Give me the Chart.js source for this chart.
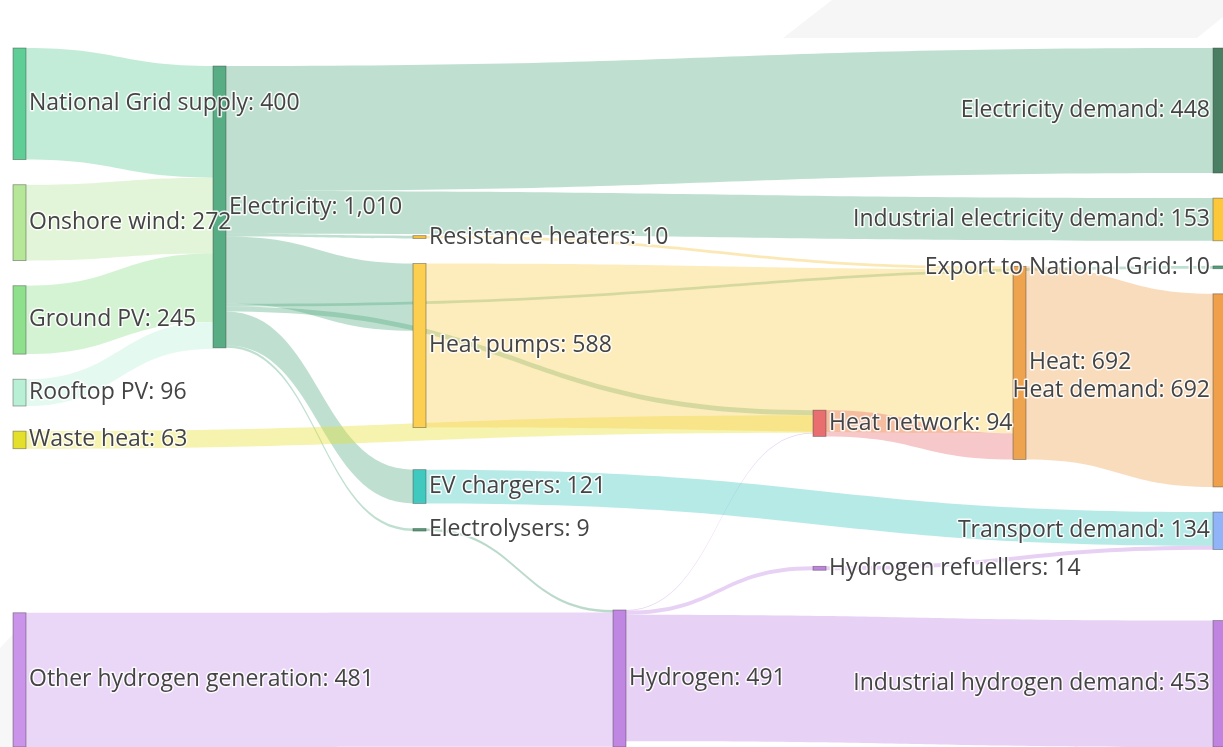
<!DOCTYPE html>
<html>
<head>
<meta charset="utf-8">
<title>Energy flows</title>
<script src="https://cdn.jsdelivr.net/npm/chart.js@4.4.1/dist/chart.umd.min.js"></script>
<style>
  html, body { margin: 0; padding: 0; background: #fff; overflow: hidden; }
  #wrap { position: relative; width: 1223px; height: 747px; }
</style>
</head>
<body>
<div id="wrap"><canvas id="flows"></canvas></div>
<script>
// nodes and their totals (order inside each column is kept top to bottom)
const nodeNames = [
  'National Grid supply', 'Onshore wind', 'Ground PV', 'Rooftop PV', 'Waste heat',
  'Other hydrogen generation', 'Electricity', 'Resistance heaters', 'Heat pumps',
  'EV chargers', 'Electrolysers', 'Hydrogen', 'Heat network', 'Hydrogen refuellers',
  'Heat', 'Electricity demand', 'Industrial electricity demand', 'Export to National Grid',
  'Heat demand', 'Transport demand', 'Industrial hydrogen demand'
]
const nodeValues = [400, 272, 245, 96, 63, 481, 1010, 10, 588, 121, 9, 491, 94, 14, 692, 448, 153, 10, 692, 134, 453]

// links
const linkFrom = [
  'National Grid supply', 'Onshore wind', 'Ground PV', 'Rooftop PV',
  'Electricity', 'Electricity', 'Electricity', 'Electricity', 'Electricity', 'Electricity', 'Electricity', 'Electricity',
  'Waste heat', 'Other hydrogen generation', 'Electrolysers',
  'Hydrogen', 'Hydrogen', 'Hydrogen',
  'Resistance heaters', 'Heat pumps', 'Heat network', 'Heat',
  'EV chargers', 'Hydrogen refuellers'
]
const linkTo = [
  'Electricity', 'Electricity', 'Electricity', 'Electricity',
  'Electricity demand', 'Industrial electricity demand', 'Export to National Grid', 'Resistance heaters', 'Heat pumps', 'Heat network', 'EV chargers', 'Electrolysers',
  'Heat network', 'Hydrogen', 'Hydrogen',
  'Industrial hydrogen demand', 'Hydrogen refuellers', 'Heat network',
  'Heat', 'Heat', 'Heat', 'Heat demand',
  'Transport demand', 'Transport demand'
]
const linkValues = [
  400, 272, 245, 96,
  448, 153, 10, 10, 241, 18, 121, 9,
  63, 481, 9,
  453, 14, 3,
  10, 588, 94, 692,
  121, 14
]

const nodeColors = [
  '#5fcd96', '#b6e698', '#8fe08c', '#b9f0d5', '#e4df2a',
  '#c994ea', '#58ad84', '#f5c23a', '#fccf50',
  '#40c9bf', '#4e9e76', '#bf86e2', '#e86e70', '#c084e0',
  '#eea34f', '#4a7f63', '#fcc83a', '#4ea27a',
  '#f0a04a', '#90b4f7', '#c084e0'
]

const nodeWidth = 13
const nodePad = 90
const linkAlpha = 0.38

function ascY(a, b) { return a.y0 - b.y0 }
function byTarget(a, b) { return ascY(a.target, b.target) || a.index - b.index }
function bySource(a, b) { return ascY(a.source, b.source) || a.index - b.index }

// sankey layout in flow units (1 unit of height = 1 unit of flow)
function sankeyLayout(height, pad, iterations) {
  const nodes = nodeNames.map((name, i) => ({ name, index: i, value: nodeValues[i], color: nodeColors[i], sourceLinks: [], targetLinks: [] }))
  const byName = {}
  nodes.forEach(n => byName[n.name] = n)
  const links = linkValues.map((value, i) => {
    const l = { index: i, value, source: byName[linkFrom[i]], target: byName[linkTo[i]] }
    l.source.sourceLinks.push(l)
    l.target.targetLinks.push(l)
    return l
  })

  // columns: depth from the sources, sinks pushed to the last column
  let current = new Set(nodes)
  let depth = 0
  while (current.size) {
    const next = new Set()
    for (const n of current) {
      n.depth = depth
      n.sourceLinks.forEach(l => next.add(l.target))
    }
    depth++
    current = next
  }
  const nCols = depth
  nodes.forEach(n => n.layer = n.sourceLinks.length ? n.depth : nCols - 1)
  const columns = Array.from({ length: nCols }, () => [])
  nodes.forEach(n => columns[n.layer].push(n))

  const shift = (n, dy) => { n.y0 += dy; n.y1 += dy }
  const sortLinks = () => nodes.forEach(n => { n.sourceLinks.sort(byTarget); n.targetLinks.sort(bySource) })

  // start: outer columns fill the whole height (first node on top, last on the bottom
  // and both stay there), inner columns are spread evenly
  columns.forEach((col, c) => {
    const total = col.reduce((s, n) => s + n.value, 0)
    const outer = c === 0 || c === nCols - 1
    const gap = outer ? (height - total) / (col.length - 1) : (height - total) / (col.length + 1)
    let y = outer ? 0 : gap
    col.forEach((n, i) => {
      n.y0 = y
      n.y1 = y + n.value
      y = n.y1 + gap
      n.pinned = outer && (i === 0 || i === col.length - 1)
    })
  })
  sortLinks()

  // offset of a link inside the stack of links at one node
  function linkOffset(list, link) {
    let off = 0
    for (const l of list) { if (l === link) break; off += l.value }
    return off
  }
  function pushDown(col, y, i, alpha) {
    for (; i < col.length; i++) {
      const n = col[i]
      const dy = (y - n.y0) * alpha
      if (dy > 1e-6) shift(n, dy)
      y = n.y1 + pad
    }
  }
  function pushUp(col, y, i, alpha) {
    for (; i >= 0; i--) {
      const n = col[i]
      const dy = (n.y1 - y) * alpha
      if (dy > 1e-6) shift(n, -dy)
      y = n.y0 - pad
    }
  }
  function resolveCollisions(col, alpha) {
    const i = col.length >> 1
    const mid = col[i]
    pushUp(col, mid.y0 - pad, i - 1, alpha)
    pushDown(col, mid.y1 + pad, i + 1, alpha)
    pushUp(col, height, col.length - 1, alpha)
    pushDown(col, 0, 0, alpha)
  }
  // pull a node towards the spot where its flows on both sides would run flat
  function relax(node, alpha) {
    if (node.pinned) return
    let y = 0, w = 0
    for (const l of node.sourceLinks) {
      const v = l.value * (l.target.layer - node.layer)
      y += (l.target.y0 + linkOffset(l.target.targetLinks, l) - linkOffset(node.sourceLinks, l)) * v
      w += v
    }
    for (const l of node.targetLinks) {
      const v = l.value * (node.layer - l.source.layer)
      y += (l.source.y0 + linkOffset(l.source.sourceLinks, l) - linkOffset(node.targetLinks, l)) * v
      w += v
    }
    if (w > 0) shift(node, (y / w - node.y0) * alpha)
  }

  for (let k = 0; k < iterations; k++) {
    const alpha = Math.pow(0.99, k)
    const beta = Math.max(1 - alpha, (k + 1) / iterations)
    const order = k % 2 ? columns.slice().reverse() : columns
    for (const col of order) {
      col.forEach(n => relax(n, alpha))
      resolveCollisions(col, beta)
      sortLinks()
    }
  }

  sortLinks()
  nodes.forEach(n => {
    let a = n.y0, b = n.y0
    n.sourceLinks.forEach(l => { l.y0 = a; a += l.value })
    n.targetLinks.forEach(l => { l.y1 = b; b += l.value })
  })
  return { nodes, links, nCols }
}

function withAlpha(hex, a) {
  const r = parseInt(hex.slice(1, 3), 16), g = parseInt(hex.slice(3, 5), 16), b = parseInt(hex.slice(5, 7), 16)
  return `rgba(${r},${g},${b},${a})`
}

const sankeyPlugin = {
  id: 'sankey',
  afterUpdate(chart) {
    chart.$sankey = sankeyLayout(chart.scales.y.max, nodePad, 64)
  },
  beforeDraw(chart) {
    // light grey panels behind the plot
    const ctx = chart.ctx
    ctx.save()
    ctx.fillStyle = '#f6f6f7'
    ctx.beginPath()
    ctx.moveTo(832, 0)
    ctx.lineTo(1223, 0)
    ctx.lineTo(1223, 17)
    ctx.lineTo(1197, 38)
    ctx.lineTo(783, 38)
    ctx.closePath()
    ctx.fill()
    ctx.fillStyle = '#f7f7f7'
    ctx.beginPath()
    ctx.moveTo(13, 634)
    ctx.lineTo(13, 747)
    ctx.lineTo(0, 747)
    ctx.lineTo(0, 648)
    ctx.closePath()
    ctx.fill()
    ctx.restore()
  },
  afterDatasetsDraw(chart) {
    const { ctx, scales: { x, y } } = chart
    const { nodes, links, nCols } = chart.$sankey
    ctx.save()

    // flows
    links.forEach(l => {
      const x0 = x.getPixelForValue(l.source.layer) + nodeWidth
      const x1 = x.getPixelForValue(l.target.layer)
      const xm = (x0 + x1) / 2
      const s0 = y.getPixelForValue(l.y0), s1 = y.getPixelForValue(l.y0 + l.value)
      const t0 = y.getPixelForValue(l.y1), t1 = y.getPixelForValue(l.y1 + l.value)
      ctx.fillStyle = withAlpha(l.source.color, linkAlpha)
      ctx.beginPath()
      ctx.moveTo(x0, s0)
      ctx.bezierCurveTo(xm, s0, xm, t0, x1, t0)
      ctx.lineTo(x1, t1)
      ctx.bezierCurveTo(xm, t1, xm, s1, x0, s1)
      ctx.closePath()
      ctx.fill()
    })

    // node bars
    nodes.forEach(n => {
      const left = x.getPixelForValue(n.layer)
      const top = y.getPixelForValue(n.y0)
      const h = y.getPixelForValue(n.y1) - top
      ctx.fillStyle = n.color
      ctx.fillRect(left, top, nodeWidth, h)
      ctx.strokeStyle = 'rgba(68,68,68,0.55)'
      ctx.lineWidth = 0.8
      ctx.strokeRect(left, top, nodeWidth, h)
    })

    // labels
    ctx.font = '23px "Open Sans", sans-serif'
    ctx.textBaseline = 'middle'
    ctx.lineJoin = 'round'
    nodes.forEach(n => {
      const text = n.name + ': ' + n.value.toLocaleString('en-US')
      const last = n.layer === nCols - 1
      const left = x.getPixelForValue(n.layer)
      const tx = last ? left - 3 : left + nodeWidth + 3
      const ty = y.getPixelForValue((n.y0 + n.y1) / 2)
      ctx.textAlign = last ? 'right' : 'left'
      ctx.strokeStyle = 'rgba(255,255,255,0.85)'
      ctx.lineWidth = 3
      ctx.strokeText(text, tx, ty)
      ctx.fillStyle = '#444'
      ctx.fillText(text, tx, ty)
    })
    ctx.restore()
  }
}

const ctx = document.getElementById('flows')

new Chart(ctx, {
  type: 'scatter',
  data: { datasets: [] },
  options: {
    responsive: true,
    maintainAspectRatio: false,
    animation: false,
    layout: { padding: { top: 48, left: 13, right: 10, bottom: 0 } },
    plugins: { legend: { display: false }, tooltip: { enabled: false } },
    scales: {
      x: { type: 'linear', min: 0, max: 6, display: false },
      y: { type: 'linear', min: 0, max: 2505, reverse: true, display: false }
    }
  },
  plugins: [sankeyPlugin]
})
</script>
</body>
</html>
